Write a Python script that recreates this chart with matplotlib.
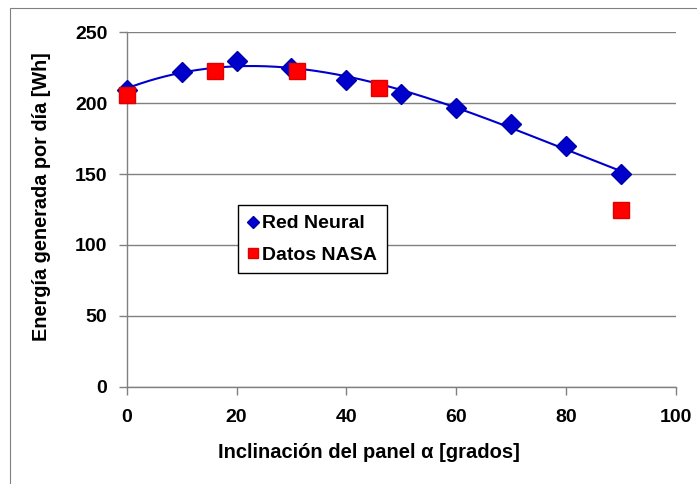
import numpy as np
import matplotlib
matplotlib.use("Agg")
import matplotlib.pyplot as plt
from matplotlib.patches import Rectangle
from matplotlib import font_manager

names = {f.name for f in font_manager.fontManager.ttflist}
narrow = 'Liberation Sans Narrow' if 'Liberation Sans Narrow' in names else 'Liberation Sans'

# Data
nn_x = [0, 10, 20, 30, 40, 50, 60, 70, 80, 90]
nn_y = [209, 222, 229.5, 225, 216.5, 206.5, 196.5, 185, 169.5, 150]
nasa_x = [0, 16, 31, 46, 90]
nasa_y = [205.5, 222.5, 223, 210.5, 125]
x_ticks = [0, 20, 40, 60, 80, 100]
y_ticks = [0, 50, 100, 150, 200, 250]

fig = plt.figure(figsize=(6.97, 4.84), dpi=100)
fig.patches.append(Rectangle((10/697, -0.1), 1.2, (484-8)/484 + 0.1, transform=fig.transFigure,
                             fill=False, edgecolor='#808080', linewidth=0.8))
ax = fig.add_axes([126.7/697, (484-386.7)/484, (676-126.7)/697, (386.7-32.3)/484])

coef = np.polyfit(nn_x, nn_y, 3)
xs = np.linspace(min(nn_x), max(nn_x), 200)
ax.plot(xs, np.polyval(coef, xs), color='#0000CC', linewidth=1.5, zorder=3)
ax.plot(nn_x, nn_y, linestyle='none', marker='D', markersize=10.5, color='#0000CC',
        markeredgecolor='#0000AA', zorder=4, label='Red Neural', clip_on=False)
ax.plot(nasa_x, nasa_y, linestyle='none', marker='s', markersize=11, color='#FF0000',
        markeredgecolor='#E00000', zorder=5, label='Datos NASA', clip_on=False)

ax.set_xlim(0, 100)
ax.set_ylim(0, 250)
ax.set_xticks(x_ticks)
ax.set_yticks(y_ticks)
ax.grid(axis='y', color='#808080', linewidth=1)
ax.set_axisbelow(True)
for s in ['top', 'right']:
    ax.spines[s].set_visible(False)
for s in ['left', 'bottom']:
    ax.spines[s].set_color('#808080')
    ax.spines[s].set_linewidth(1)
ax.tick_params(axis='both', direction='out', length=6, color='#808080', width=1)
for lab in ax.get_xticklabels() + ax.get_yticklabels():
    lab.set_fontfamily(narrow)
    lab.set_fontweight('bold')
    lab.set_fontsize(14)
ax.tick_params(axis='x', pad=10)
ax.tick_params(axis='y', pad=8)

ax.set_xlabel('Inclinación del panel α [grados]', fontsize=14.5, fontweight='bold',
              fontfamily='Liberation Sans')
ax.xaxis.set_label_coords((369-126.7)/(676-126.7), -(453-386.7)/(386.7-32.3))
ax.xaxis.label.set_va('center')
ax.set_ylabel('Energía generada por día [Wh]', fontsize=14.3, fontweight='bold',
              fontfamily='Liberation Sans')
ax.yaxis.set_label_coords(-(126.7-41)/(676-126.7), (386.7-197)/(386.7-32.3))
ax.yaxis.label.set_va('center')

leg = ax.legend(loc='upper left', bbox_to_anchor=((238-126.7)/(676-126.7), (386.7-205)/(386.7-32.3)),
                borderaxespad=0,
                frameon=True, fancybox=False, handlelength=0.5, handletextpad=0.25,
                borderpad=0.5, labelspacing=0.7, markerscale=0.6,
                prop={'family': 'Liberation Sans', 'weight': 'bold', 'size': 14})
leg.get_frame().set_edgecolor('black')
leg.get_frame().set_linewidth(1)
leg.get_frame().set_alpha(1)

fig.savefig('out.png', dpi=100)
